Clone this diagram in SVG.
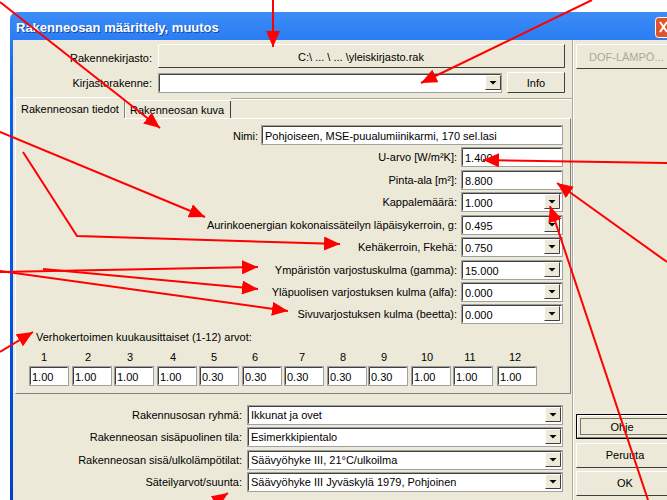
<svg xmlns="http://www.w3.org/2000/svg" xmlns:xlink="http://www.w3.org/1999/xlink" width="667" height="500" viewBox="0 0 667 500">
<defs>
<style>
.t{font-family:"Liberation Sans",Arial,sans-serif;font-size:11px;fill:#000}
.e{text-anchor:end}
.m{text-anchor:middle}
.fld{fill:#fff;stroke:#A0A0A0;stroke-width:1}
.sh{fill:none;stroke:#404040;stroke-width:1}
.btn{fill:#ECE9D8;stroke:#808080;stroke-width:1}
.hl{fill:none;stroke:#fff;stroke-width:1}
.dk{fill:none;stroke:#404040;stroke-width:1}
.arr{fill:none;stroke:#FF0000;stroke-width:2;marker-end:url(#ah)}
</style>
<linearGradient id="tg" x1="0" y1="0" x2="0" y2="1">
<stop offset="0" stop-color="#3D8DF7"/>
<stop offset="0.15" stop-color="#0A62EC"/>
<stop offset="0.6" stop-color="#0055E5"/>
<stop offset="1" stop-color="#0042C9"/>
</linearGradient>
<marker id="ah" markerUnits="userSpaceOnUse" markerWidth="16" markerHeight="14" refX="16" refY="7" orient="auto" viewBox="0 0 16 14">
<path d="M0,0 L16,7 L0,14 Z" fill="#FF0000"/>
</marker>
<g id="dd">
<rect x="0" y="0" width="16" height="15" fill="#ECE9D8"/>
<path d="M0.5,14.5 V0.5 H15.5" class="hl"/>
<path d="M0.5,14.5 H15.5 V0.5" class="dk"/>
<path d="M4.5,6 H11.5 L8,9.5 Z" fill="#000"/>
</g>
</defs>

<rect x="0" y="0" width="667" height="500" fill="#fff"/>

<g id="window">
<path d="M10,500 V20 Q10,12 18,12 H667 V500 Z" fill="url(#tg)"/>
<rect x="13" y="40" width="654" height="460" fill="#ECE9D8"/>
<text x="17" y="33" font-family="'Liberation Sans',Arial,sans-serif" font-size="13" font-weight="bold" fill="#0A246A" opacity="0.6">Rakenneosan määrittely, muutos</text>
<text x="16" y="32" font-family="'Liberation Sans',Arial,sans-serif" font-size="13" font-weight="bold" fill="#fff">Rakenneosan määrittely, muutos</text>
<g id="close">
<rect x="655.5" y="17.5" width="21" height="20" rx="3" fill="#E0542C" stroke="#fff"/>
<path d="M660,22 L667,32 M667,22 L660,32" stroke="#fff" stroke-width="2"/>
</g>
<path d="M572.5,40 V500" stroke="#ACA899"/>
<path d="M573.5,40 V500" stroke="#fff"/>
<path d="M231,98.5 H572" stroke="#ACA899"/>
<path d="M231,99.5 H572" stroke="#fff"/>
</g>

<g id="top">
<text x="152" y="62" class="t e">Rakennekirjasto:</text>
<g id="btn-lib">
<rect x="158.5" y="44.5" width="406" height="23" fill="#ECE9D8"/>
<path d="M158.5,67.5 V44.5 H564.5" class="hl"/>
<path d="M158.5,67.5 H564.5 V44.5" class="dk"/>
<text x="361" y="61" class="t m">C:\ ... \ ... \yleiskirjasto.rak</text>
</g>
<text x="152" y="87" class="t e">Kirjastorakenne:</text>
<rect x="158.5" y="73.5" width="343" height="19" class="fld"/>
<path d="M159.5,91.5 V74.5 H500.5" class="sh"/>
<use xlink:href="#dd" x="485" y="75"/>
<g id="btn-info">
<rect x="507.5" y="72.5" width="57" height="20" fill="#ECE9D8"/>
<path d="M507.5,92.5 V72.5 H564.5" class="hl"/>
<path d="M507.5,92.5 H564.5 V72.5" class="dk"/>
<text x="536" y="87" class="t m">Info</text>
</g>
<g id="btn-dof">
<rect x="576.5" y="44.5" width="100" height="24" fill="#ECE9D8"/>
<path d="M576.5,68.5 V44.5 H667" class="hl"/>
<path d="M576.5,68.5 H667" class="dk"/>
<text x="589" y="61" class="t" fill="#ACA899" style="fill:#ACA899">DOF-LÄMPÖ...</text>
</g>
</g>

<g id="tabs">
<path d="M15.5,393.5 V118.5 H570.5" class="hl"/>
<path d="M15.5,393.5 H570.5 V118.5" stroke="#808080" fill="none"/>
<path d="M15.5,119 V99.5 Q15.5,97.5 17.5,97.5 H123.5" class="hl"/>
<path d="M124.5,99 V118" stroke="#808080"/>
<rect x="16" y="99" width="108" height="21" fill="#ECE9D8"/>
<text x="21" y="113" class="t">Rakenneosan tiedot</text>
<path d="M125.5,118 V100.5 H230.5" class="hl"/>
<path d="M230.5,101 V118" stroke="#404040"/>
<text x="130" y="114" class="t">Rakenneosan kuva</text>
</g>

<g id="fields">
<text x="258" y="140" class="t e">Nimi:</text>
<rect x="261.5" y="125.5" width="301" height="19" class="fld"/>
<path d="M262.5,143.5 V126.5 H561.5" class="sh"/>
<text x="265" y="140" class="t">Pohjoiseen, MSE-puualumiinikarmi, 170 sel.lasi</text>

<text x="457" y="161" class="t e">U-arvo [W/m²K]:</text>
<rect x="461.5" y="147.5" width="101" height="19" class="fld"/>
<path d="M462.5,165.5 V148.5 H561.5" class="sh"/>
<text x="465" y="162" class="t">1.400</text>

<text x="457" y="184" class="t e">Pinta-ala [m²]:</text>
<rect x="461.5" y="170.5" width="101" height="19" class="fld"/>
<path d="M462.5,188.5 V171.5 H561.5" class="sh"/>
<text x="465" y="185" class="t">8.800</text>

<text x="457" y="206" class="t e">Kappalemäärä:</text>
<rect x="461.5" y="192.5" width="101" height="19" class="fld"/>
<path d="M462.5,210.5 V193.5 H561.5" class="sh"/>
<use xlink:href="#dd" x="544" y="194"/>
<text x="465" y="207" class="t">1.000</text>

<text x="457" y="229" class="t e">Aurinkoenergian kokonaissäteilyn läpäisykerroin, g:</text>
<rect x="461.5" y="215.5" width="101" height="19" class="fld"/>
<path d="M462.5,233.5 V216.5 H561.5" class="sh"/>
<use xlink:href="#dd" x="544" y="217"/>
<text x="465" y="230" class="t">0.495</text>

<text x="457" y="251" class="t e">Kehäkerroin, Fkehä:</text>
<rect x="461.5" y="237.5" width="101" height="19" class="fld"/>
<path d="M462.5,255.5 V238.5 H561.5" class="sh"/>
<use xlink:href="#dd" x="544" y="239"/>
<text x="465" y="252" class="t">0.750</text>

<text x="457" y="274" class="t e">Ympäristön varjostuskulma (gamma):</text>
<rect x="461.5" y="260.5" width="101" height="19" class="fld"/>
<path d="M462.5,278.5 V261.5 H561.5" class="sh"/>
<use xlink:href="#dd" x="544" y="262"/>
<text x="465" y="275" class="t">15.000</text>

<text x="457" y="296" class="t e">Yläpuolisen varjostuksen kulma (alfa):</text>
<rect x="461.5" y="282.5" width="101" height="19" class="fld"/>
<path d="M462.5,300.5 V283.5 H561.5" class="sh"/>
<use xlink:href="#dd" x="544" y="284"/>
<text x="465" y="297" class="t">0.000</text>

<text x="457" y="318" class="t e">Sivuvarjostuksen kulma (beetta):</text>
<rect x="461.5" y="304.5" width="101" height="19" class="fld"/>
<path d="M462.5,322.5 V305.5 H561.5" class="sh"/>
<use xlink:href="#dd" x="544" y="306"/>
<text x="465" y="319" class="t">0.000</text>
</g>

<g id="months">
<text x="36" y="341" class="t">Verhokertoimen kuukausittaiset (1-12) arvot:</text>
<g class="t m">
<text x="44" y="361" class="t m">1</text>
<text x="88" y="361" class="t m">2</text>
<text x="130" y="361" class="t m">3</text>
<text x="173" y="361" class="t m">4</text>
<text x="214" y="361" class="t m">5</text>
<text x="255" y="361" class="t m">6</text>
<text x="302" y="361" class="t m">7</text>
<text x="343" y="361" class="t m">8</text>
<text x="384" y="361" class="t m">9</text>
<text x="427" y="361" class="t m">10</text>
<text x="470" y="361" class="t m">11</text>
<text x="515" y="361" class="t m">12</text>
</g>
<rect x="29.5" y="366.5" width="39" height="19" class="fld"/><path d="M30.5,384.5 V367.5 H67.5" class="sh"/><text x="32" y="381" class="t">1.00</text>
<rect x="72.5" y="366.5" width="39" height="19" class="fld"/><path d="M73.5,384.5 V367.5 H110.5" class="sh"/><text x="75" y="381" class="t">1.00</text>
<rect x="114.5" y="366.5" width="39" height="19" class="fld"/><path d="M115.5,384.5 V367.5 H152.5" class="sh"/><text x="117" y="381" class="t">1.00</text>
<rect x="157.5" y="366.5" width="39" height="19" class="fld"/><path d="M158.5,384.5 V367.5 H195.5" class="sh"/><text x="160" y="381" class="t">1.00</text>
<rect x="199.5" y="366.5" width="39" height="19" class="fld"/><path d="M200.5,384.5 V367.5 H237.5" class="sh"/><text x="202" y="381" class="t">0.30</text>
<rect x="242.5" y="366.5" width="39" height="19" class="fld"/><path d="M243.5,384.5 V367.5 H280.5" class="sh"/><text x="245" y="381" class="t">0.30</text>
<rect x="284.5" y="366.5" width="39" height="19" class="fld"/><path d="M285.5,384.5 V367.5 H322.5" class="sh"/><text x="287" y="381" class="t">0.30</text>
<rect x="327.5" y="366.5" width="39" height="19" class="fld"/><path d="M328.5,384.5 V367.5 H365.5" class="sh"/><text x="330" y="381" class="t">0.30</text>
<rect x="368.5" y="366.5" width="39" height="19" class="fld"/><path d="M369.5,384.5 V367.5 H406.5" class="sh"/><text x="371" y="381" class="t">0.30</text>
<rect x="411.5" y="366.5" width="39" height="19" class="fld"/><path d="M412.5,384.5 V367.5 H449.5" class="sh"/><text x="414" y="381" class="t">1.00</text>
<rect x="453.5" y="366.5" width="39" height="19" class="fld"/><path d="M454.5,384.5 V367.5 H491.5" class="sh"/><text x="456" y="381" class="t">1.00</text>
<rect x="497.5" y="366.5" width="39" height="19" class="fld"/><path d="M498.5,384.5 V367.5 H535.5" class="sh"/><text x="500" y="381" class="t">1.00</text>
</g>

<g id="bottom">
<text x="242" y="419" class="t e">Rakennusosan ryhmä:</text>
<rect x="247.5" y="405.5" width="315" height="19" class="fld"/>
<path d="M248.5,423.5 V406.5 H561.5" class="sh"/>
<use xlink:href="#dd" x="545" y="407"/>
<text x="251" y="419" class="t">Ikkunat ja ovet</text>

<text x="242" y="441" class="t e">Rakenneosan sisäpuolinen tila:</text>
<rect x="247.5" y="427.5" width="315" height="19" class="fld"/>
<path d="M248.5,445.5 V428.5 H561.5" class="sh"/>
<use xlink:href="#dd" x="545" y="429"/>
<text x="251" y="441" class="t">Esimerkkipientalo</text>

<text x="242" y="464" class="t e">Rakenneosan sisä/ulkolämpötilat:</text>
<rect x="247.5" y="450.5" width="315" height="19" class="fld"/>
<path d="M248.5,468.5 V451.5 H561.5" class="sh"/>
<use xlink:href="#dd" x="545" y="452"/>
<text x="251" y="464" class="t">Säävyöhyke III, 21°C/ulkoilma</text>

<text x="242" y="486" class="t e">Säteilyarvot/suunta:</text>
<rect x="247.5" y="472.5" width="315" height="19" class="fld"/>
<path d="M248.5,490.5 V473.5 H561.5" class="sh"/>
<use xlink:href="#dd" x="545" y="474"/>
<text x="251" y="486" class="t">Säävyöhyke III Jyväskylä 1979, Pohjoinen</text>
</g>

<g id="buttons">
<g id="btn-ohje">
<rect x="576.5" y="414.5" width="100" height="24" fill="#ECE9D8" stroke="#000"/>
<path d="M577.5,437.5 V415.5 H667" class="hl"/>
<path d="M577.5,437.5 H667" stroke="#808080"/>
<rect x="580.5" y="418.5" width="100" height="16" fill="none" stroke="#000" stroke-dasharray="1,1"/>
<text x="622" y="431" class="t m">Ohje</text>
</g>
<g id="btn-peruuta">
<rect x="576.5" y="443.5" width="100" height="24" fill="#ECE9D8"/>
<path d="M576.5,467.5 V443.5 H667" class="hl"/>
<path d="M576.5,467.5 H667" class="dk"/>
<text x="625" y="459" class="t m">Peruuta</text>
</g>
<g id="btn-ok">
<rect x="576.5" y="471.5" width="100" height="24" fill="#ECE9D8"/>
<path d="M576.5,495.5 V471.5 H667" class="hl"/>
<path d="M576.5,495.5 H667" class="dk"/>
<text x="625" y="487" class="t m">OK</text>
</g>
</g>

<g id="connectors">
<path class="arr" d="M273,0 L273,47"/>
<path class="arr" d="M592,0 L421,83"/>
<path class="arr" d="M0,2 L160,128"/>
<path class="arr" d="M0,132 L205,217"/>
<path class="arr" d="M23,152 L77,236 L340,244"/>
<path class="arr" d="M0,272 L258,267"/>
<path class="arr" d="M43,269 L258,289"/>
<path class="arr" d="M0,271 L288,311"/>
<path class="arr" d="M0,352 L33,332"/>
<path class="arr" d="M200,512 L228,493"/>
<path class="arr" d="M667,163 L483,160"/>
<path class="arr" d="M667,262 L557,183"/>
<path class="arr" d="M648,500 L550,206"/>
</g>
</svg>
